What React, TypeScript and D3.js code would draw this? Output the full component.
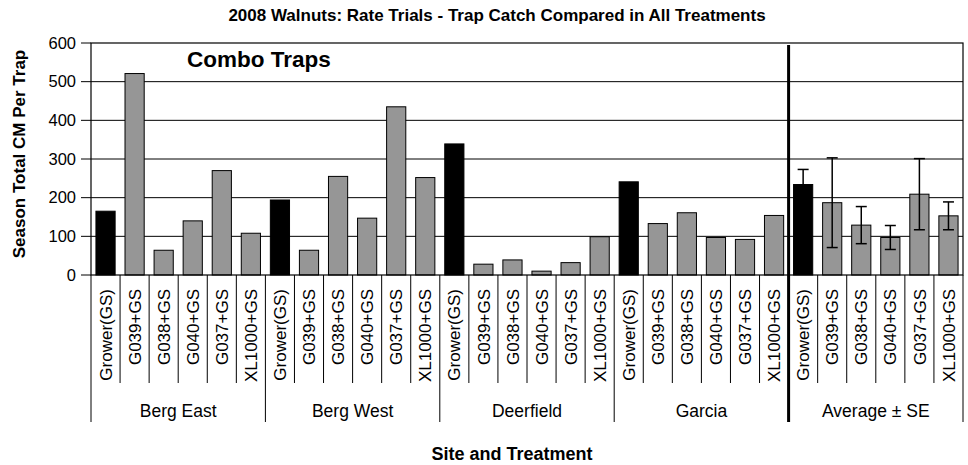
import React from 'react'
import * as d3 from 'd3'

const sites = ['Berg East', 'Berg West', 'Deerfield', 'Garcia', 'Average ± SE']
const treatments = ['Grower(GS)', 'G039+GS', 'G038+GS', 'G040+GS', 'G037+GS', 'XL1000+GS']

const bergEast = [165, 521, 64, 140, 270, 108]
const bergWest = [194, 64, 255, 147, 435, 252]
const deerfield = [339, 28, 39, 10, 32, 99]
const garcia = [241, 133, 161, 97, 92, 154]
const average = [234, 187, 129, 97, 209, 153]
const averageSE = [39, 116, 48, 31, 92, 36]

const yTicks = [0, 100, 200, 300, 400, 500, 600]

const W = 968
const H = 465
const margin = { left: 91, right: 5, top: 43, bottom: 190 }
const FONT = '"Liberation Sans", Arial, sans-serif'

type Bar = { key: string; site: number; treatment: string; value: number; se?: number }

const App = () => {
  const siteValues = [bergEast, bergWest, deerfield, garcia, average]
  const bars: Bar[] = []
  siteValues.forEach((vals, s) => {
    vals.forEach((v, t) => {
      bars.push({
        key: `${s}-${t}`,
        site: s,
        treatment: treatments[t],
        value: v,
        se: s === 4 ? averageSE[t] : undefined
      })
    })
  })

  const x0 = margin.left
  const x1 = W - margin.right
  const yTop = margin.top
  const yBottom = H - margin.bottom

  const xScale = d3
    .scaleBand<string>()
    .domain(bars.map(d => d.key))
    .range([x0, x1])
    .paddingInner(0.34)
    .paddingOuter(0.17)
  const step = xScale.step()

  const yScale = d3.scaleLinear().domain([0, 600]).range([yBottom, yTop])

  const catTickBottom = 383
  const groupTickBottom = 422
  const n = treatments.length
  const dividerX = x0 + 4 * n * step

  return (
    <svg
      width={W}
      height={H}
      style={{ position: 'absolute', left: 0, top: 0, background: '#fff' }}
      fontFamily={FONT}
    >
      {/* title */}
      <text x={497} y={21} textAnchor="middle" fontWeight="bold" fontSize={17}>
        2008 Walnuts: Rate Trials - Trap Catch Compared in All Treatments
      </text>

      {/* gridlines */}
      {yTicks.slice(1, -1).map(t => (
        <line key={t} x1={x0} x2={x1} y1={yScale(t)} y2={yScale(t)} stroke="#000" strokeWidth={1} />
      ))}

      {/* bars */}
      {bars.map(d => (
        <rect
          key={d.key}
          x={xScale(d.key)}
          y={yScale(d.value)}
          width={xScale.bandwidth()}
          height={yBottom - yScale(d.value)}
          fill={d.treatment === 'Grower(GS)' ? '#000' : '#969696'}
          stroke="#000"
          strokeWidth={1}
        />
      ))}

      {/* error bars */}
      {bars
        .filter(d => d.se !== undefined)
        .map(d => {
          const cx = (xScale(d.key) as number) + xScale.bandwidth() / 2
          const hi = yScale(d.value + (d.se as number))
          const lo = yScale(d.value - (d.se as number))
          return (
            <g key={'e' + d.key} stroke="#000" strokeWidth={1.5}>
              <line x1={cx} x2={cx} y1={hi} y2={lo} />
              <line x1={cx - 5.5} x2={cx + 5.5} y1={hi} y2={hi} />
              <line x1={cx - 5.5} x2={cx + 5.5} y1={lo} y2={lo} />
            </g>
          )
        })}

      {/* plot border */}
      <rect x={x0} y={yTop} width={x1 - x0} height={yBottom - yTop} fill="none" stroke="#000" strokeWidth={1.2} />

      {/* y ticks */}
      {yTicks.map(t => (
        <g key={'yt' + t}>
          <line x1={x0 - 10} x2={x0} y1={yScale(t)} y2={yScale(t)} stroke="#000" />
          <text x={76} y={yScale(t)} dy="0.35em" textAnchor="end" fontSize={16.5}>
            {t}
          </text>
        </g>
      ))}

      {/* y axis title */}
      <text
        transform={`translate(25, 154) rotate(-90)`}
        textAnchor="middle"
        fontWeight="bold"
        fontSize={17}
      >
        Season Total CM Per Trap
      </text>

      {/* combo traps label */}
      <text x={187} y={67} fontWeight="bold" fontSize={22.5}>
        Combo Traps
      </text>

      {/* category separators */}
      {d3.range(bars.length + 1).map(i => {
        const gx = x0 + i * step
        const isGroup = i % n === 0
        return (
          <line
            key={'cs' + i}
            x1={gx}
            x2={gx}
            y1={yBottom}
            y2={isGroup ? groupTickBottom : catTickBottom}
            stroke="#000"
            strokeWidth={1}
          />
        )
      })}

      {/* category labels */}
      {bars.map(d => {
        const cx = (xScale(d.key) as number) + xScale.bandwidth() / 2
        return (
          <text
            key={'cl' + d.key}
            transform={`translate(${cx}, 289) rotate(-90)`}
            textAnchor="end"
            dy="0.36em"
            fontSize={17}
          >
            {d.treatment}
          </text>
        )
      })}

      {/* site labels */}
      {sites.map((s, i) => (
        <text key={s} x={x0 + (i + 0.5) * n * step} y={417} textAnchor="middle" fontSize={17.5}>
          {s}
        </text>
      ))}

      {/* average divider */}
      <line x1={dividerX} x2={dividerX} y1={yTop + 2} y2={groupTickBottom} stroke="#000" strokeWidth={3} />

      {/* x axis title */}
      <text x={512} y={460} textAnchor="middle" fontWeight="bold" fontSize={18}>
        Site and Treatment
      </text>
    </svg>
  )
}

export default App
